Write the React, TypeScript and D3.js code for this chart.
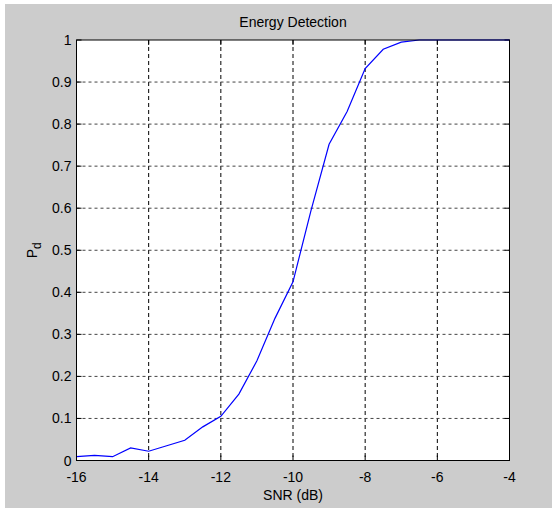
import React, { useEffect, useRef } from "react";
import * as d3 from "d3";

// SNR (dB) and probability of detection
const snr = [-16, -15.5, -15, -14.5, -14, -13.5, -13, -12.5, -12, -11.5, -11, -10.5, -10, -9.5, -9, -8.5, -8, -7.5, -7, -6.5, -6, -5.5, -5, -4.5, -4];
const pd = [0.009, 0.012, 0.009, 0.03, 0.022, 0.035, 0.048, 0.08, 0.105, 0.158, 0.237, 0.338, 0.425, 0.595, 0.752, 0.83, 0.932, 0.978, 0.995, 1, 1, 1, 1, 1, 1];
const xTicks = [-16, -14, -12, -10, -8, -6, -4];
const yTicks = [0, 0.1, 0.2, 0.3, 0.4, 0.5, 0.6, 0.7, 0.8, 0.9, 1];

const App = () => {
  const ref = useRef<SVGSVGElement>(null);

  useEffect(() => {
    const width = 552;
    const height = 510;
    const left = 76.5, right = 509.5, top = 40, bottom = 460.5;
    const svg = d3.select(ref.current);
    svg.selectAll("*").remove();

    svg.append("rect").attr("x", 5).attr("y", 4).attr("width", width - 5).attr("height", height - 6).attr("fill", "#cccccc");

    const x = d3.scaleLinear().domain([-16, -4]).range([left, right]);
    const y = d3.scaleLinear().domain([0, 1]).range([bottom, top]);

    svg.append("rect").attr("x", left).attr("y", top).attr("width", right - left).attr("height", bottom - top).attr("fill", "#fff");

    const font = "Arial, 'Liberation Sans', sans-serif";

    // grid
    svg.append("g").selectAll("line").data(xTicks.slice(1, -1)).join("line")
      .attr("x1", d => x(d)).attr("x2", d => x(d)).attr("y1", top).attr("y2", bottom)
      .attr("stroke", "#000").attr("stroke-dasharray", "4,3");
    svg.append("g").selectAll("line").data(yTicks.slice(1, -1)).join("line")
      .attr("x1", left).attr("x2", right).attr("y1", d => y(d)).attr("y2", d => y(d))
      .attr("stroke", "#444").attr("stroke-dasharray", "3,3");

    // ticks inside the box
    const tl = 5;
    const tk = svg.append("g").attr("stroke", "#000");
    xTicks.forEach(t => {
      tk.append("line").attr("x1", x(t)).attr("x2", x(t)).attr("y1", bottom).attr("y2", bottom - tl);
      tk.append("line").attr("x1", x(t)).attr("x2", x(t)).attr("y1", top).attr("y2", top + tl);
    });
    yTicks.forEach(t => {
      tk.append("line").attr("x1", left).attr("x2", left + tl).attr("y1", y(t)).attr("y2", y(t));
      tk.append("line").attr("x1", right).attr("x2", right - tl).attr("y1", y(t)).attr("y2", y(t));
    });

    // curve
    const line = d3.line<number>().x((d, i) => x(snr[i])).y(d => y(d));
    svg.append("path").datum(pd).attr("d", line).attr("fill", "none").attr("stroke", "#0000ff").attr("stroke-width", 1.2);

    // box
    svg.append("rect").attr("x", left).attr("y", top).attr("width", right - left).attr("height", bottom - top)
      .attr("fill", "none").attr("stroke", "#000");

    // tick labels
    svg.append("g").selectAll("text").data(xTicks).join("text")
      .attr("x", d => x(d)).attr("y", bottom + 21).attr("text-anchor", "middle")
      .attr("font-family", font).attr("font-size", 14).text(d => String(d));
    svg.append("g").selectAll("text").data(yTicks).join("text")
      .attr("x", left - 5).attr("y", d => y(d) + 5).attr("text-anchor", "end")
      .attr("font-family", font).attr("font-size", 14).text(d => String(d));

    svg.append("text").attr("x", (left + right) / 2).attr("y", 27).attr("text-anchor", "middle")
      .attr("font-family", font).attr("font-size", 14).text("Energy Detection");
    svg.append("text").attr("x", (left + right) / 2).attr("y", 500).attr("text-anchor", "middle")
      .attr("font-family", font).attr("font-size", 14).text("SNR (dB)");

    const yl = svg.append("text").attr("transform", `translate(37, ${(top + bottom) / 2}) rotate(-90)`)
      .attr("text-anchor", "middle").attr("font-family", font).attr("font-size", 14);
    yl.append("tspan").text("P");
    yl.append("tspan").attr("dy", 4).attr("font-size", 12).text("d");
  }, []);

  return <svg ref={ref} width={552} height={510} style={{ display: "block", position: "absolute", left: 0, top: 0 }} />;
};

export default App;
